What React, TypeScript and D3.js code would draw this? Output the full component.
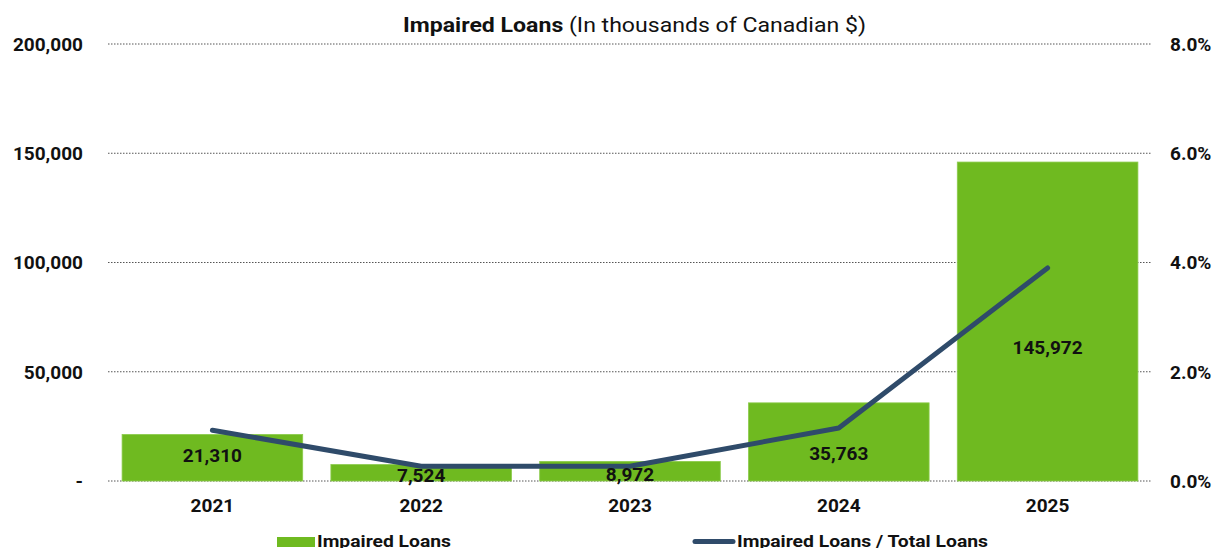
import React from "react";
import * as d3 from "d3";

// Impaired loans by fiscal year (thousands of CAD) and ratio to total loans (%)
const years = ["2021", "2022", "2023", "2024", "2025"];
const impairedLoans = [21310, 7524, 8972, 35763, 145972];
const impairedRatio = [0.93, 0.27, 0.27, 0.97, 3.9];
const leftTicks = [0, 50000, 100000, 150000, 200000];
const rightTicks = [0, 2, 4, 6, 8];

const W = 1213;
const H = 548;
const FONT = "Roboto, 'Noto Sans', sans-serif";
const GREEN = "#6FBA20";
const NAVY = "#2F4B6A";

export default function App() {
  const left = 108;
  const right = 1152;
  const top = 44;
  const bottom = 481;

  const x = d3.scaleBand<string>().domain(years).range([left, right]).paddingInner(0.135).paddingOuter(0.0675);
  const yL = d3.scaleLinear().domain([0, 200000]).range([bottom, top]);
  const yR = d3.scaleLinear().domain([0, 8]).range([bottom, top]);

  const fmt = d3.format(",");
  const line = d3
    .line<number>()
    .x((_, i) => (x(years[i]) as number) + x.bandwidth() / 2)
    .y((d) => yR(d));

  // vertical nudge of the value labels relative to the bar middle
  const labelShift = [-3, 2, 3, 11.5, 26];

  return (
    <svg width={W} height={H} style={{ position: "absolute", left: 0, top: 0, background: "#fff" }} fontFamily={FONT}>
      <text x={634.5} y={32} textAnchor="middle" fontSize={21} fill="#111" textLength={463} lengthAdjust="spacingAndGlyphs">
        <tspan fontWeight={700}>Impaired Loans</tspan>
        <tspan fontWeight={400}> (In thousands of Canadian $)</tspan>
      </text>

      {leftTicks.map((t) => (
        <line key={"g" + t} x1={left} x2={right} y1={yL(t)} y2={yL(t)} stroke="#555" strokeWidth={1} strokeDasharray="1.5 1.5" />
      ))}

      {leftTicks.map((t) => (
        <text key={"l" + t} x={83} y={yL(t)} dy="0.36em" textAnchor="end" fontSize={19} fontWeight={700} fill="#111">
          {t === 0 ? "-" : fmt(t)}
        </text>
      ))}
      {rightTicks.map((t) => (
        <text key={"r" + t} x={1170} y={yR(t)} dy="0.36em" textAnchor="start" fontSize={19} fontWeight={700} fill="#111">
          {t.toFixed(1) + "%"}
        </text>
      ))}

      {impairedLoans.map((v, i) => (
        <rect
          key={"b" + i}
          x={x(years[i])}
          y={yL(v)}
          width={x.bandwidth()}
          height={bottom - yL(v)}
          fill={GREEN}
          stroke="#8CCB4C"
          strokeWidth={0.8}
        />
      ))}

      <path d={line(impairedRatio) || ""} fill="none" stroke={NAVY} strokeWidth={5} strokeLinejoin="round" strokeLinecap="round" />

      {impairedLoans.map((v, i) => (
        <text
          key={"v" + i}
          x={(x(years[i]) as number) + x.bandwidth() / 2}
          y={(yL(v) + bottom) / 2 + labelShift[i]}
          dy="0.36em"
          textAnchor="middle"
          fontSize={19}
          fontWeight={700}
          fill="#111"
        >
          {fmt(v)}
        </text>
      ))}

      {years.map((yr) => (
        <text key={"x" + yr} x={(x(yr) as number) + x.bandwidth() / 2} y={512} textAnchor="middle" fontSize={19} fontWeight={700} fill="#111">
          {yr}
        </text>
      ))}

      <rect x={277} y={537} width={38} height={10} fill={GREEN} />
      <text x={317} y={547} fontSize={17} fontWeight={700} fill="#111" textLength={134} lengthAdjust="spacingAndGlyphs">
        Impaired Loans
      </text>
      <line x1={695} x2={733} y1={541.5} y2={541.5} stroke={NAVY} strokeWidth={5} strokeLinecap="round" />
      <text x={737} y={547} fontSize={17} fontWeight={700} fill="#111" textLength={251} lengthAdjust="spacingAndGlyphs">
        Impaired Loans / Total Loans
      </text>
    </svg>
  );
}
